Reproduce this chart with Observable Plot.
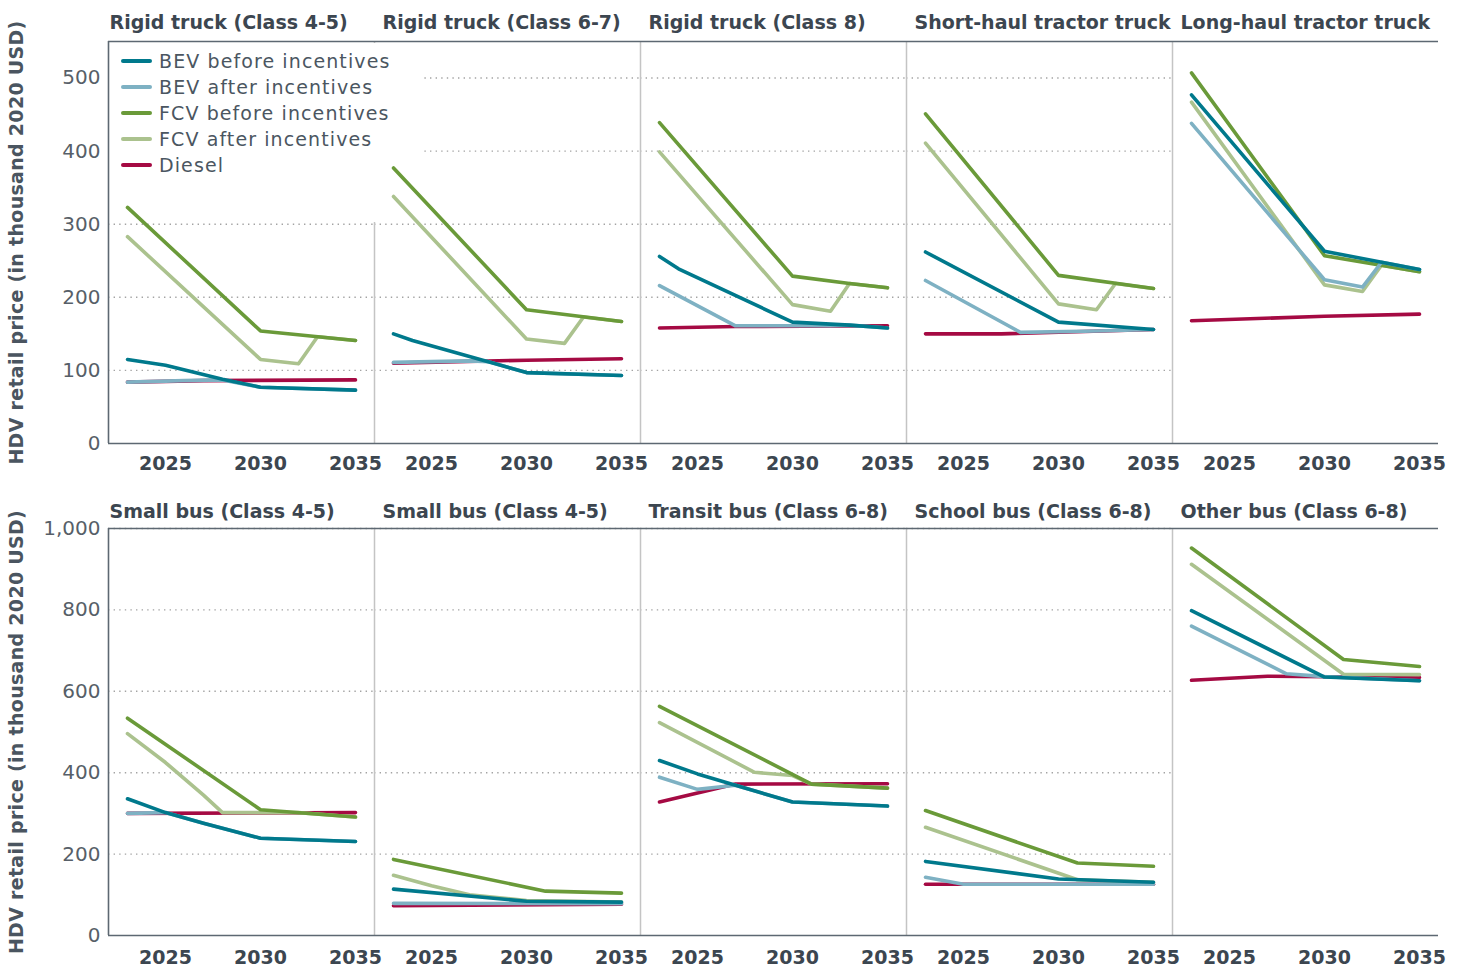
<!DOCTYPE html>
<html>
<head>
<meta charset="utf-8">
<script src="https://cdn.jsdelivr.net/npm/d3@7"></script>
<script src="https://cdn.jsdelivr.net/npm/@observablehq/plot@0.6"></script>
<style>
  html, body { margin: 0; padding: 0; background: #fff; }
  #wrap { position: relative; width: 1465px; height: 969px; font-family: "DejaVu Sans", sans-serif; background: #fff; }
  .layer { position: absolute; left: 0; }
  .layer svg { display: block; }
  g[aria-label="x-axis tick label"] text { font-weight: 700; fill: #3c4650; font-size: 19px; }
  g[aria-label="y-axis tick label"] text { fill: #575f68; font-size: 20px; }
  g[aria-label="y-axis label"] text { font-weight: 700; fill: #4a5560; letter-spacing: 0.3px; font-size: 19px; }
  #legend { position: absolute; left: 109px; top: 43px; width: 314px; height: 179px; background: #fff; }
  #legend .item { position: absolute; left: 12px; height: 26px; display: flex; align-items: center; font-size: 19px; color: #4b5661; letter-spacing: 1.1px; white-space: nowrap; }
  #legend .sw { width: 31px; height: 4px; border-radius: 2px; margin-right: 7px; }
</style>
</head>
<body>
<div id="wrap">
  <div id="topBack" class="layer" style="top:0"></div>
  <div id="bottomBack" class="layer" style="top:480px"></div>
  <div id="legend"></div>
  <div id="topFront" class="layer" style="top:0"></div>
  <div id="bottomFront" class="layer" style="top:480px"></div>
</div>
<script>
// ---------- DATA ----------
const seriesNames = ["BEV before incentives", "BEV after incentives", "FCV before incentives", "FCV after incentives", "Diesel"];
const seriesColors = ["#00798c", "#7eb1c3", "#6a9a39", "#abc28e", "#a50a43"];
const drawOrder = [4, 3, 2, 1, 0];

const topTitles = ["Rigid truck (Class 4-5)", "Rigid truck (Class 6-7)", "Rigid truck (Class 8)", "Short-haul tractor truck", "Long-haul tractor truck"];
const bottomTitles = ["Small bus (Class 4-5)", "Small bus (Class 4-5)", "Transit bus (Class 6-8)", "School bus (Class 6-8)", "Other bus (Class 6-8)"];

const xDomain = [2022, 2036];
const xTicks = [2025, 2030, 2035];
const topYDomain = [0, 550];
const topYTicks = [0, 100, 200, 300, 400, 500];
const bottomYDomain = [0, 1000];
const bottomYTicks = [0, 200, 400, 600, 800, 1000];
const yLabel = "HDV retail price (in thousand 2020 USD)";

// each facet: series in seriesNames order, points [year, price]
const rigid45 = [
  [[2023,115],[2025,107],[2028,88],[2030,77],[2035,73]],
  [[2023,84],[2026,86],[2028,87],[2030,77],[2035,73]],
  [[2023,323],[2030,154],[2035,141]],
  [[2023,283],[2030,115],[2032,109],[2033,146],[2035,141]],
  [[2023,84],[2027,86],[2035,87]]
];
const rigid67 = [
  [[2023,150],[2024,141],[2030,97],[2035,93]],
  [[2023,111],[2027,113],[2028,112],[2030,97],[2035,93]],
  [[2023,377],[2030,183],[2035,167]],
  [[2023,338],[2030,143],[2032,137],[2033,173],[2035,167]],
  [[2023,110],[2030,114],[2035,116]]
];
const rigid8 = [
  [[2023,256],[2024,239],[2030,166],[2033,162],[2035,158]],
  [[2023,216],[2027,161],[2032,161],[2033,162],[2035,158]],
  [[2023,439],[2030,229],[2033,219],[2035,213]],
  [[2023,399],[2030,190],[2032,181],[2033,219],[2035,213]],
  [[2023,158],[2027,160],[2035,161]]
];
const shortHaul = [
  [[2023,262],[2030,166],[2035,156]],
  [[2023,223],[2028,152],[2032,154],[2035,156]],
  [[2023,451],[2030,230],[2035,212]],
  [[2023,411],[2030,191],[2032,183],[2033,219],[2035,212]],
  [[2023,150],[2027,150],[2035,156]]
];
const longHaul = [
  [[2023,477],[2030,263],[2035,238]],
  [[2023,438],[2030,224],[2032,214],[2033,248],[2035,238]],
  [[2023,507],[2030,257],[2035,235]],
  [[2023,467],[2030,217],[2032,208],[2033,244],[2035,235]],
  [[2023,168],[2030,174],[2035,177]]
];
const smallBusA = [
  [[2023,336],[2025,302],[2027,276],[2030,239],[2035,231]],
  [[2023,300],[2025,302],[2027,276],[2030,239],[2035,231]],
  [[2023,534],[2030,309],[2035,291]],
  [[2023,496],[2025,425],[2027,345],[2028,302],[2032,302],[2035,291]],
  [[2023,300],[2035,302]]
];
const smallBusB = [
  [[2023,114],[2030,84],[2035,82]],
  [[2023,79],[2035,78]],
  [[2023,187],[2031,109],[2035,104]],
  [[2023,148],[2025,122],[2027,100],[2030,86],[2035,82]],
  [[2023,73],[2035,77]]
];
const transitBus = [
  [[2023,430],[2025,397],[2027,369],[2030,328],[2035,318]],
  [[2023,389],[2025,359],[2027,369],[2030,328],[2035,318]],
  [[2023,563],[2031,372],[2035,362]],
  [[2023,523],[2028,401],[2030,393],[2031,372],[2035,362]],
  [[2023,328],[2027,372],[2035,373]]
];
const schoolBus = [
  [[2023,182],[2030,139],[2035,131]],
  [[2023,143],[2025,126],[2035,126]],
  [[2023,307],[2031,178],[2035,170]],
  [[2023,266],[2031,137],[2035,131]],
  [[2023,126],[2035,126]]
];
const otherBus = [
  [[2023,798],[2030,635],[2035,626]],
  [[2023,760],[2028,643],[2030,636],[2035,626]],
  [[2023,952],[2031,678],[2035,661]],
  [[2023,912],[2031,642],[2035,641]],
  [[2023,627],[2025,632],[2027,637],[2035,634]]
];

const topFacets = [rigid45, rigid67, rigid8, shortHaul, longHaul];
const bottomFacets = [smallBusA, smallBusB, transitBus, schoolBus, otherBus];

// ---------- BUILD ----------
function toRows(facets, keys) {
  const out = [];
  facets.forEach((fac, fi) => fac.forEach((ser, si) => ser.forEach(([year, value]) =>
    out.push({facet: keys[fi], series: si, year, value}))));
  return out;
}

const frameColor = "#5d6872";
const dividerColor = "#c4c4c4";
const titleFont = "'DejaVu Sans', sans-serif";

function rowPlots({facets, titles, yDomain, yTicks, yFormat, height, marginTop, marginBottom, xPad, titleDy}) {
  const keys = titles.map((_, i) => "k" + i);
  const rows = toRows(facets, keys);
  const gridTicks = yTicks.filter(t => t > yDomain[0]);
  const common = {
    width: 1465, height, marginLeft: 108, marginRight: 27, marginTop, marginBottom,
    fx: {domain: keys, padding: 0, axis: null, label: null},
    x: {domain: xDomain, axis: null},
    y: {domain: yDomain, axis: null}
  };
  const back = Plot.plot({
    ...common,
    style: {fontFamily: titleFont, fontSize: "19px", background: "#fff"},
    marks: [
      Plot.gridY({ticks: gridTicks, stroke: "#a3a3a3", strokeOpacity: 1, strokeWidth: 1.4, strokeDasharray: "1.4,4.2"}),
      Plot.ruleX(keys.slice(0, keys.length - 1), {fx: d => d, x: () => xDomain[1], stroke: dividerColor, strokeWidth: 1.5})
    ]
  });
  const front = Plot.plot({
    ...common,
    style: {fontFamily: titleFont, fontSize: "19px", background: "transparent", overflow: "visible"},
    marks: [
      Plot.ruleX(keys.slice(0, 1), {fx: d => d, x: () => xDomain[0], stroke: frameColor, strokeWidth: 1.6}),
      Plot.ruleY([yDomain[0]], {stroke: frameColor, strokeWidth: 1.6}),
      Plot.ruleY([yDomain[1]], {stroke: frameColor, strokeWidth: 1.6}),
      ...drawOrder.map(si => Plot.line(rows.filter(r => r.series === si), {
        fx: "facet", x: "year", y: "value", stroke: seriesColors[si], strokeWidth: 3.6
      })),
      Plot.axisX({ticks: xTicks, tickFormat: d => String(d), tickSize: 0, tickPadding: xPad, label: null, fontSize: 19}),
      Plot.axisY({ticks: yTicks, tickFormat: yFormat, tickSize: 0, tickPadding: 8, label: yLabel,
        labelAnchor: "center", labelArrow: "none", labelOffset: 99, fontSize: 19}),
      Plot.text(keys.slice(0, 1), {fx: d => d, text: () => titles[0], frameAnchor: "top-left",
        textAnchor: "start", lineAnchor: "bottom", dx: 1, dy: titleDy, fontWeight: 700, fontSize: 19, fill: "#3c4650"}),
      Plot.text(keys.slice(1), {fx: d => d, text: (d, i) => titles[i + 1], frameAnchor: "top-left",
        textAnchor: "start", lineAnchor: "bottom", dx: 8, dy: titleDy, fontWeight: 700, fontSize: 19, fill: "#3c4650"})
    ]
  });
  return [back, front];
}

const [topBack, topFront] = rowPlots({
  facets: topFacets, titles: topTitles, yDomain: topYDomain, yTicks: topYTicks,
  yFormat: d3.format(","), height: 480, marginTop: 41, marginBottom: 37, xPad: 13, titleDy: -13
});
const [bottomBack, bottomFront] = rowPlots({
  facets: bottomFacets, titles: bottomTitles, yDomain: bottomYDomain, yTicks: bottomYTicks,
  yFormat: d3.format(","), height: 489, marginTop: 48, marginBottom: 34, xPad: 15, titleDy: -11
});
document.getElementById("topBack").appendChild(topBack);
document.getElementById("topFront").appendChild(topFront);
document.getElementById("bottomBack").appendChild(bottomBack);
document.getElementById("bottomFront").appendChild(bottomFront);

// legend
const legend = document.getElementById("legend");
seriesNames.forEach((name, i) => {
  const item = document.createElement("div");
  item.className = "item";
  item.style.top = (5 + i * 26) + "px";
  const sw = document.createElement("span");
  sw.className = "sw";
  sw.style.background = seriesColors[i];
  const label = document.createElement("span");
  label.textContent = name;
  item.appendChild(sw);
  item.appendChild(label);
  legend.appendChild(item);
});
</script>
</body>
</html>
